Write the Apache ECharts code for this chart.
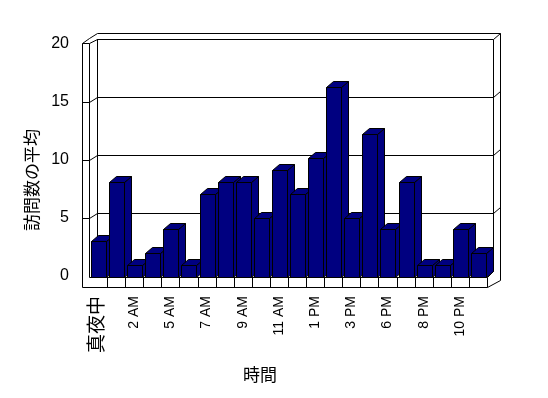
<!DOCTYPE html>
<html>
<head>
<meta charset="utf-8">
<script src="https://cdn.jsdelivr.net/npm/echarts@6/dist/echarts.min.js"></script>
<style>html,body{margin:0;padding:0;background:#fff}#c{width:548px;height:398px}</style>
</head>
<body>
<div id="c"></div>
<script>
// ---- data ----
const categories = ['真夜中','1 AM','2 AM','3 AM','5 AM','6 AM','7 AM','8 AM','9 AM','10 AM','11 AM','正午','1 PM','2 PM','3 PM','4 PM','6 PM','7 PM','8 PM','9 PM','10 PM','11 PM'];
const values = [3, 8, 1, 2, 4, 1, 7, 8, 8, 5, 9, 7, 10, 16, 5, 12, 4, 8, 1, 1, 4, 2];
const yTicks = [0, 5, 10, 15, 20];
const xAxisTitle = '時間';
const yAxisTitle = '訪問数の平均';

// ---- layout ----
const W = 548, H = 398;
const FONT = '"Liberation Sans", "Noto Sans CJK JP", sans-serif';
const FRONT = {left: 89, right: 487, top: 39, bottom: 277};   // plane of bar fronts
const BACK  = {left: 97, right: 493, top: 39, bottom: 271};   // back wall
const LAB   = {top: 44, bottom: 276};                          // y label scale
const DX = 7, DY = -6;       // depth offset
const OUT = {left: 82, top: 33, right: 500, bottom: 287, wallTop: 43};
const NAVY = '#000080';

const chart = echarts.init(document.getElementById('c'), null, {renderer: 'canvas'});

function gridOf(r) {
  return {left: r.left, right: W - r.right, top: r.top, bottom: H - r.bottom, outerBoundsMode: 'none', containLabel: false};
}

const yMax = yTicks[yTicks.length - 1];

function renderBar(params, api) {
  const idx = api.value(0), val = api.value(1);
  const top = api.coord([idx, val]);
  const base = api.coord([idx, 0]);
  const slot = api.size([1, 0])[0];
  const x = Math.round(top[0] - slot / 2 + 2) + 0.5;
  const w = Math.round(slot * 0.83);
  const yT = Math.round(top[1]) + 0.5;
  const yB = Math.round(base[1]) + 0.5;
  const style = {fill: NAVY, stroke: '#000', lineWidth: 1};
  return {
    type: 'group',
    children: [
      {type: 'polygon', shape: {points: [[x + w, yT], [x + w + DX, yT + DY], [x + w + DX, yB + DY], [x + w, yB]]}, style: style},
      {type: 'polygon', shape: {points: [[x, yT], [x + w, yT], [x + w + DX, yT + DY], [x + DX, yT + DY]]}, style: style},
      {type: 'rect', shape: {x: x, y: yT, width: w, height: yB - yT}, style: style}
    ]
  };
}

function line(pts) {
  return {type: 'polyline', silent: true, z: 1, shape: {points: pts.map(p => [Math.round(p[0]) + 0.5, Math.round(p[1]) + 0.5])}, style: {stroke: '#000', lineWidth: 1, fill: null}};
}

function frameGraphics() {
  const g = [];
  // outer outline
  g.push(line([[OUT.left, OUT.bottom], [OUT.left, OUT.wallTop], [FRONT.left, OUT.wallTop - 5], [BACK.left, OUT.top], [OUT.right, OUT.top], [OUT.right, OUT.bottom - 7], [FRONT.right, OUT.bottom], [OUT.left, OUT.bottom]]));
  // left wall front face
  g.push(line([[OUT.left, OUT.wallTop], [FRONT.left, OUT.wallTop], [BACK.left, BACK.top]]));
  g.push(line([[FRONT.left, OUT.wallTop], [FRONT.left, FRONT.bottom]]));
  // back wall inner face
  g.push(line([[BACK.left, BACK.bottom], [BACK.left, BACK.top], [BACK.right, BACK.top], [BACK.right, BACK.bottom]]));
  g.push(line([[BACK.right, BACK.top], [OUT.right, OUT.top]]));
  // floor
  g.push(line([[FRONT.left, FRONT.bottom], [FRONT.right, FRONT.bottom], [FRONT.right, OUT.bottom]]));
  g.push(line([[FRONT.right, FRONT.bottom], [BACK.right, BACK.bottom]]));
  // floor dividers at category boundaries
  for (let i = 1; i < categories.length; i++) {
    const c = chart.convertToPixel({xAxisIndex: 0}, i);
    const c0 = chart.convertToPixel({xAxisIndex: 0}, i - 1);
    const xb = (c + c0) / 2;
    g.push(line([[xb, FRONT.bottom], [xb, OUT.bottom]]));
  }
  // wall ticks at gridline levels
  yTicks.forEach(v => {
    const yl = chart.convertToPixel({yAxisIndex: 2}, v);
    const yb = chart.convertToPixel({yAxisIndex: 1}, v);
    if (v > 0 && v < yMax) {
      g.push(line([[OUT.left, yl], [FRONT.left, yl], [BACK.left, yb]]));
      g.push(line([[BACK.right, yb], [OUT.right, yb + DY]]));
    }
  });
  // titles
  g.push({type: 'text', silent: true, x: 33, y: 180, rotation: Math.PI / 2,
    style: {text: yAxisTitle, font: '17px ' + FONT, fill: '#000', align: 'center', verticalAlign: 'middle'}});
  g.push({type: 'text', silent: true, x: 260, y: 376,
    style: {text: xAxisTitle, font: '17px ' + FONT, fill: '#000', align: 'center', verticalAlign: 'middle'}});
  return g;
}

const option = {
  animation: false,
  backgroundColor: '#fff',
  grid: [gridOf(FRONT), gridOf(BACK), {left: FRONT.left, right: W - FRONT.right, top: LAB.top, bottom: H - LAB.bottom, outerBoundsMode: 'none'}],
  xAxis: [
    {type: 'category', gridIndex: 0, data: categories, boundaryGap: true,
      axisLine: {show: false}, axisTick: {show: false}, splitLine: {show: false},
      axisLabel: {interval: 1, rotate: 90, margin: 19, color: '#000', fontSize: 14, fontFamily: FONT,
        formatter: (v, i) => i === 0 ? '{big|' + v + '}' : v,
        rich: {big: {fontSize: 19, fontFamily: FONT, color: '#000'}}}},
    {type: 'category', gridIndex: 1, data: categories, show: false},
    {type: 'category', gridIndex: 2, data: categories, show: false}
  ],
  yAxis: [
    {type: 'value', gridIndex: 0, min: 0, max: yMax, interval: 5, show: false},
    {type: 'value', gridIndex: 1, min: 0, max: yMax, interval: 5,
      axisLine: {show: false}, axisTick: {show: false}, axisLabel: {show: false},
      splitLine: {show: true, lineStyle: {color: '#000', width: 1}}},
    {type: 'value', gridIndex: 2, min: 0, max: yMax, interval: 5,
      axisLine: {show: false}, axisTick: {show: false}, splitLine: {show: false},
      axisLabel: {margin: 20, color: '#000', fontSize: 16, fontFamily: FONT}}
  ],
  series: [{
    type: 'custom', xAxisIndex: 0, yAxisIndex: 0, z: 5,
    renderItem: renderBar,
    data: values.map((v, i) => [i, v])
  }]
};

chart.setOption(option);
chart.setOption({graphic: frameGraphics()});
</script>
</body>
</html>
